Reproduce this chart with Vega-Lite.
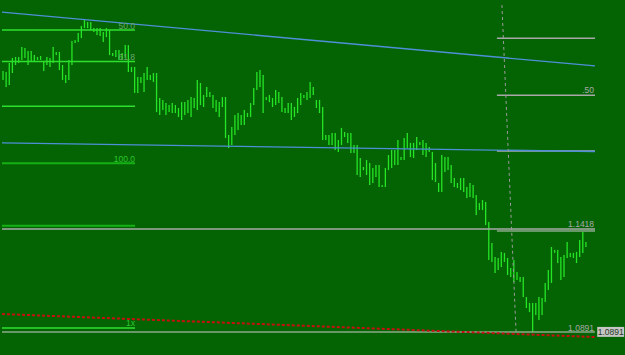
{
  "$schema": "https://vega.github.io/schema/vega-lite/v6.json",
  "width": 625,
  "height": 355,
  "autosize": {"type": "fit", "contains": "padding"},
  "padding": 0,
  "background": "#046404",
  "config": {"view": {"stroke": null}},
  "datasets": {
    "bars": [
      {"i":0,"h":1.2227,"l":1.2181},{"i":1,"h":1.2222,"l":1.2145},{"i":2,"h":1.2268,"l":1.2156},{"i":3,"h":1.2294,"l":1.2217},{"i":4,"h":1.2299,"l":1.2258},
      {"i":5,"h":1.2299,"l":1.2268},{"i":6,"h":1.2350,"l":1.2284},{"i":7,"h":1.2345,"l":1.2294},{"i":8,"h":1.2330,"l":1.2258},{"i":9,"h":1.2330,"l":1.2273},
      {"i":10,"h":1.2309,"l":1.2273},{"i":11,"h":1.2299,"l":1.2284},{"i":12,"h":1.2304,"l":1.2284},{"i":13,"h":1.2273,"l":1.2227},{"i":14,"h":1.2299,"l":1.2258},
      {"i":15,"h":1.2294,"l":1.2248},{"i":16,"h":1.2350,"l":1.2268},{"i":17,"h":1.2325,"l":1.2309},{"i":18,"h":1.2325,"l":1.2232},{"i":19,"h":1.2258,"l":1.2181},
      {"i":20,"h":1.2207,"l":1.2166},{"i":21,"h":1.2284,"l":1.2181},{"i":22,"h":1.2381,"l":1.2258},{"i":23,"h":1.2386,"l":1.2371},{"i":24,"h":1.2422,"l":1.2376},
      {"i":25,"h":1.2458,"l":1.2396},{"i":26,"h":1.2488,"l":1.2447},{"i":27,"h":1.2478,"l":1.2447},{"i":28,"h":1.2478,"l":1.2437},{"i":29,"h":1.2447,"l":1.2427},
      {"i":30,"h":1.2447,"l":1.2412},{"i":31,"h":1.2447,"l":1.2406},{"i":32,"h":1.2427,"l":1.2376},{"i":33,"h":1.2447,"l":1.2401},{"i":34,"h":1.2437,"l":1.2309},
      {"i":35,"h":1.2320,"l":1.2304},{"i":36,"h":1.2335,"l":1.2299},{"i":37,"h":1.2335,"l":1.2284},{"i":38,"h":1.2320,"l":1.2284},{"i":39,"h":1.2360,"l":1.2294},
      {"i":40,"h":1.2360,"l":1.2222},{"i":41,"h":1.2248,"l":1.2222},{"i":42,"h":1.2248,"l":1.2115},{"i":43,"h":1.2197,"l":1.2115},{"i":44,"h":1.2197,"l":1.2166},
      {"i":45,"h":1.2217,"l":1.2120},{"i":46,"h":1.2248,"l":1.2181},{"i":47,"h":1.2207,"l":1.2181},{"i":48,"h":1.2217,"l":1.2171},{"i":49,"h":1.2217,"l":1.2017},
      {"i":50,"h":1.2089,"l":1.2002},{"i":51,"h":1.2079,"l":1.2028},{"i":52,"h":1.2063,"l":1.2002},{"i":53,"h":1.2053,"l":1.2017},{"i":54,"h":1.2063,"l":1.2012},
      {"i":55,"h":1.2053,"l":1.2012},{"i":56,"h":1.2038,"l":1.1992},
      {"i":57,"h":1.2068,"l":1.1976},{"i":58,"h":1.2068,"l":1.2002},{"i":59,"h":1.2079,"l":1.2012},{"i":60,"h":1.2094,"l":1.1992},
      {"i":61,"h":1.2089,"l":1.2038},{"i":62,"h":1.2181,"l":1.2028},{"i":63,"h":1.2166,"l":1.2053},{"i":64,"h":1.2104,"l":1.2043},{"i":65,"h":1.2145,"l":1.2094},
      {"i":66,"h":1.2120,"l":1.2094},{"i":67,"h":1.2104,"l":1.2038},{"i":68,"h":1.2079,"l":1.2017},{"i":69,"h":1.2068,"l":1.1992},{"i":70,"h":1.2094,"l":1.2043},
      {"i":71,"h":1.2094,"l":1.1884},{"i":72,"h":1.1899,"l":1.1833},{"i":73,"h":1.1941,"l":1.1848},{"i":74,"h":1.2002,"l":1.1899},{"i":75,"h":1.2012,"l":1.1925},
      {"i":76,"h":1.2002,"l":1.1951},{"i":77,"h":1.2028,"l":1.1951},{"i":78,"h":1.2012,"l":1.1992},{"i":79,"h":1.2063,"l":1.1992},{"i":80,"h":1.2140,"l":1.2053},
      {"i":81,"h":1.2222,"l":1.2130},{"i":82,"h":1.2232,"l":1.2145},{"i":83,"h":1.2207,"l":1.2012},{"i":84,"h":1.2094,"l":1.2079},{"i":85,"h":1.2104,"l":1.2068},
      {"i":86,"h":1.2089,"l":1.2043},{"i":87,"h":1.2130,"l":1.2053},{"i":88,"h":1.2120,"l":1.2063},{"i":89,"h":1.2094,"l":1.2017},{"i":90,"h":1.2038,"l":1.2012},
      {"i":91,"h":1.2063,"l":1.2012},{"i":92,"h":1.2063,"l":1.1976},{"i":93,"h":1.2043,"l":1.1992},{"i":94,"h":1.2089,"l":1.2012},{"i":95,"h":1.2115,"l":1.2053},
      {"i":96,"h":1.2104,"l":1.2089},{"i":97,"h":1.2120,"l":1.2079},{"i":98,"h":1.2171,"l":1.2089},{"i":99,"h":1.2145,"l":1.2104},{"i":100,"h":1.2079,"l":1.2038},
      {"i":101,"h":1.2079,"l":1.2012},{"i":102,"h":1.2043,"l":1.1874},{"i":103,"h":1.1899,"l":1.1874},{"i":104,"h":1.1899,"l":1.1848},{"i":105,"h":1.1910,"l":1.1848},
      {"i":106,"h":1.1910,"l":1.1823},{"i":107,"h":1.1874,"l":1.1813},{"i":108,"h":1.1936,"l":1.1848},{"i":109,"h":1.1915,"l":1.1889},
      {"i":110,"h":1.1910,"l":1.1859},{"i":111,"h":1.1910,"l":1.1807},{"i":112,"h":1.1848,"l":1.1807},{"i":113,"h":1.1848,"l":1.1695},{"i":114,"h":1.1782,"l":1.1684},
      {"i":115,"h":1.1736,"l":1.1720},{"i":116,"h":1.1772,"l":1.1695},{"i":117,"h":1.1756,"l":1.1644},{"i":118,"h":1.1731,"l":1.1654},{"i":119,"h":1.1746,"l":1.1684},
      {"i":120,"h":1.1746,"l":1.1633},{"i":121,"h":1.1644,"l":1.1633},{"i":122,"h":1.1731,"l":1.1633},{"i":123,"h":1.1797,"l":1.1720},{"i":124,"h":1.1823,"l":1.1731},
      {"i":125,"h":1.1823,"l":1.1746},{"i":126,"h":1.1874,"l":1.1746},{"i":127,"h":1.1787,"l":1.1772},{"i":128,"h":1.1884,"l":1.1772},{"i":129,"h":1.1910,"l":1.1833},
      {"i":130,"h":1.1859,"l":1.1787},{"i":131,"h":1.1859,"l":1.1782},{"i":132,"h":1.1889,"l":1.1823},{"i":133,"h":1.1864,"l":1.1848},{"i":134,"h":1.1874,"l":1.1797},
      {"i":135,"h":1.1859,"l":1.1787},{"i":136,"h":1.1838,"l":1.1813},{"i":137,"h":1.1813,"l":1.1669},{"i":138,"h":1.1756,"l":1.1659},{"i":139,"h":1.1654,"l":1.1608},
      {"i":140,"h":1.1797,"l":1.1608},{"i":141,"h":1.1787,"l":1.1710},{"i":142,"h":1.1787,"l":1.1720},{"i":143,"h":1.1746,"l":1.1654},{"i":144,"h":1.1679,"l":1.1633},
      {"i":145,"h":1.1654,"l":1.1628},{"i":146,"h":1.1679,"l":1.1618},{"i":147,"h":1.1679,"l":1.1608},{"i":148,"h":1.1633,"l":1.1577},{"i":149,"h":1.1654,"l":1.1582},
      {"i":150,"h":1.1644,"l":1.1577},{"i":151,"h":1.1593,"l":1.1490},{"i":152,"h":1.1551,"l":1.1516},
      {"i":153,"h":1.1567,"l":1.1516},{"i":154,"h":1.1557,"l":1.1439},{"i":155,"h":1.1454,"l":1.1260},{"i":156,"h":1.1347,"l":1.1250},{"i":157,"h":1.1275,"l":1.1193},
      {"i":158,"h":1.1270,"l":1.1208},{"i":159,"h":1.1301,"l":1.1224},{"i":160,"h":1.1296,"l":1.1250},{"i":161,"h":1.1270,"l":1.1183},{"i":162,"h":1.1219,"l":1.1173},
      {"i":163,"h":1.1260,"l":1.1147},{"i":164,"h":1.1198,"l":1.1157},{"i":165,"h":1.1173,"l":1.1147},{"i":166,"h":1.1173,"l":1.1070},{"i":167,"h":1.1070,"l":1.1014},
      {"i":168,"h":1.1040,"l":1.0993},{"i":169,"h":1.1040,"l":1.0891},{"i":170,"h":1.1040,"l":1.0978},{"i":171,"h":1.1070,"l":1.0952},{"i":172,"h":1.1065,"l":1.0978},
      {"i":173,"h":1.1142,"l":1.1045},{"i":174,"h":1.1208,"l":1.1106},{"i":175,"h":1.1326,"l":1.1142},{"i":176,"h":1.1311,"l":1.1296},{"i":177,"h":1.1311,"l":1.1244},
      {"i":178,"h":1.1275,"l":1.1157},{"i":179,"h":1.1285,"l":1.1173},{"i":180,"h":1.1352,"l":1.1270},{"i":181,"h":1.1296,"l":1.1275},{"i":182,"h":1.1296,"l":1.1270},
      {"i":183,"h":1.1301,"l":1.1244},{"i":184,"h":1.1362,"l":1.1275},{"i":185,"h":1.1403,"l":1.1296},{"i":186,"h":1.1352,"l":1.1326}
    ],
    "levels": [
      {"name":"50.0","x1":-0.32,"x2":42.12,"p":1.2437,"kind":"fib"},
      {"name":"61.8","x1":-0.32,"x2":42.12,"p":1.2276,"kind":"fib"},
      {"name":"78.6","x1":-0.32,"x2":42.12,"p":1.2047,"kind":"fib"},
      {"name":"100.0","x1":-0.32,"x2":42.12,"p":1.1755,"kind":"fibdim"},
      {"name":"123.6","x1":-0.32,"x2":42.12,"p":1.1435,"kind":"fibdim"},
      {"name":"161.8","x1":-0.32,"x2":42.12,"p":1.0912,"kind":"fib"},
      {"name":"0","x1":157.6,"x2":188.9,"p":1.2395,"kind":"gray"},
      {"name":".50","x1":157.6,"x2":188.9,"p":1.2103,"kind":"gray"},
      {"name":"1","x1":157.6,"x2":188.9,"p":1.1818,"kind":"gray"},
      {"name":"1.1418","x1":-0.32,"x2":188.9,"p":1.1418,"kind":"gray"},
      {"name":"1.1418b","x1":157.6,"x2":188.9,"p":1.1408,"kind":"graydim"},
      {"name":"1.0891","x1":-0.32,"x2":188.9,"p":1.0891,"kind":"graydim"}
    ],
    "trends": [
      {"name":"upper","x1":-0.32,"p1":1.2529,"x2":188.9,"p2":1.2253,"kind":"blue"},
      {"name":"lower","x1":-0.32,"p1":1.1859,"x2":188.9,"p2":1.1815,"kind":"blue"},
      {"name":"support","x1":-0.32,"p1":1.0983,"x2":188.9,"p2":1.0865,"kind":"red"},
      {"name":"vline","x1":159.2,"p1":1.2565,"x2":163.7,"p2":1.0891,"kind":"vdash"}
    ],
    "box": [{"x1":189.6,"x2":198.2,"p1":1.0917,"p2":1.0866,"text":"1.0891","xc":193.9,"pc":1.0891}],
    "labels": [
      {"text":"50.0","x":42.12,"p":1.2440,"kind":"fiblabel"},
      {"text":"61.8","x":42.12,"p":1.2284,"kind":"fiblabel"},
      {"text":"100.0","x":42.12,"p":1.1761,"kind":"fibgreen"},
      {"text":"1x","x":42.12,"p":1.0922,"kind":"fibgreen"},
      {"text":".50","x":188.6,"p":1.2115,"kind":"gray"},
      {"text":"1.1418","x":188.6,"p":1.1429,"kind":"gray"},
      {"text":"1.0891","x":188.6,"p":1.0896,"kind":"gray"}
    ]
  },
  "layer": [
    {
      "data": {"name": "bars"},
      "mark": {"type": "rule", "color": "#26e426", "strokeWidth": 1.3},
      "encoding": {
        "x": {"field": "i", "type": "quantitative", "scale": {"domain": [-0.957, 198.466], "nice": false, "zero": false}, "axis": null},
        "y": {"field": "h", "type": "quantitative", "scale": {"domain": [1.07732, 1.25908], "nice": false, "zero": false}, "axis": null},
        "y2": {"field": "l"}
      }
    },
    {
      "data": {"name": "levels"},
      "transform": [{"filter": "datum.kind === 'fib'"}],
      "mark": {"type": "rule", "color": "#2ee02e", "strokeWidth": 1.5},
      "encoding": {
        "x": {"field": "x1", "type": "quantitative", "scale": {"domain": [-0.957, 198.466], "nice": false, "zero": false}, "axis": null},
        "x2": {"field": "x2"},
        "y": {"field": "p", "type": "quantitative", "scale": {"domain": [1.07732, 1.25908], "nice": false, "zero": false}, "axis": null}
      }
    },
    {
      "data": {"name": "levels"},
      "transform": [{"filter": "datum.kind === 'fibdim'"}],
      "mark": {"type": "rule", "color": "#14b014", "strokeWidth": 2},
      "encoding": {
        "x": {"field": "x1", "type": "quantitative", "scale": {"domain": [-0.957, 198.466], "nice": false, "zero": false}, "axis": null},
        "x2": {"field": "x2"},
        "y": {"field": "p", "type": "quantitative", "scale": {"domain": [1.07732, 1.25908], "nice": false, "zero": false}, "axis": null}
      }
    },
    {
      "data": {"name": "levels"},
      "transform": [{"filter": "datum.kind === 'gray'"}],
      "mark": {"type": "rule", "color": "#a8a8a8", "strokeWidth": 1.5},
      "encoding": {
        "x": {"field": "x1", "type": "quantitative", "scale": {"domain": [-0.957, 198.466], "nice": false, "zero": false}, "axis": null},
        "x2": {"field": "x2"},
        "y": {"field": "p", "type": "quantitative", "scale": {"domain": [1.07732, 1.25908], "nice": false, "zero": false}, "axis": null}
      }
    },
    {
      "data": {"name": "levels"},
      "transform": [{"filter": "datum.kind === 'graydim'"}],
      "mark": {"type": "rule", "color": "#8aa88a", "strokeWidth": 1.5},
      "encoding": {
        "x": {"field": "x1", "type": "quantitative", "scale": {"domain": [-0.957, 198.466], "nice": false, "zero": false}, "axis": null},
        "x2": {"field": "x2"},
        "y": {"field": "p", "type": "quantitative", "scale": {"domain": [1.07732, 1.25908], "nice": false, "zero": false}, "axis": null}
      }
    },
    {
      "data": {"name": "trends"},
      "transform": [{"filter": "datum.kind === 'blue'"}],
      "mark": {"type": "rule", "color": "#4f8fd8", "strokeWidth": 1.3},
      "encoding": {
        "x": {"field": "x1", "type": "quantitative", "scale": {"domain": [-0.957, 198.466], "nice": false, "zero": false}, "axis": null},
        "x2": {"field": "x2"},
        "y": {"field": "p1", "type": "quantitative", "scale": {"domain": [1.07732, 1.25908], "nice": false, "zero": false}, "axis": null},
        "y2": {"field": "p2"}
      }
    },
    {
      "data": {"name": "trends"},
      "transform": [{"filter": "datum.kind === 'red'"}],
      "mark": {"type": "rule", "color": "#c81010", "strokeWidth": 2, "strokeDash": [3, 2]},
      "encoding": {
        "x": {"field": "x1", "type": "quantitative", "scale": {"domain": [-0.957, 198.466], "nice": false, "zero": false}, "axis": null},
        "x2": {"field": "x2"},
        "y": {"field": "p1", "type": "quantitative", "scale": {"domain": [1.07732, 1.25908], "nice": false, "zero": false}, "axis": null},
        "y2": {"field": "p2"}
      }
    },
    {
      "data": {"name": "trends"},
      "transform": [{"filter": "datum.kind === 'vdash'"}],
      "mark": {"type": "rule", "color": "#9a9a9a", "strokeWidth": 1, "strokeDash": [3, 3]},
      "encoding": {
        "x": {"field": "x1", "type": "quantitative", "scale": {"domain": [-0.957, 198.466], "nice": false, "zero": false}, "axis": null},
        "x2": {"field": "x2"},
        "y": {"field": "p1", "type": "quantitative", "scale": {"domain": [1.07732, 1.25908], "nice": false, "zero": false}, "axis": null},
        "y2": {"field": "p2"}
      }
    },
    {
      "data": {"name": "box"},
      "mark": {"type": "rect", "color": "#c6c6c6"},
      "encoding": {
        "x": {"field": "x1", "type": "quantitative", "scale": {"domain": [-0.957, 198.466], "nice": false, "zero": false}, "axis": null},
        "x2": {"field": "x2"},
        "y": {"field": "p1", "type": "quantitative", "scale": {"domain": [1.07732, 1.25908], "nice": false, "zero": false}, "axis": null},
        "y2": {"field": "p2"}
      }
    },
    {
      "data": {"name": "box"},
      "mark": {"type": "text", "color": "#233a23", "font": "Liberation Sans", "fontSize": 8.5, "align": "center", "baseline": "middle"},
      "encoding": {
        "x": {"field": "xc", "type": "quantitative", "scale": {"domain": [-0.957, 198.466], "nice": false, "zero": false}, "axis": null},
        "y": {"field": "pc", "type": "quantitative", "scale": {"domain": [1.07732, 1.25908], "nice": false, "zero": false}, "axis": null},
        "text": {"field": "text"}
      }
    },
    {
      "data": {"name": "labels"},
      "mark": {"type": "text", "font": "Liberation Sans", "fontSize": 8.5, "align": "right", "baseline": "alphabetic"},
      "encoding": {
        "x": {"field": "x", "type": "quantitative", "scale": {"domain": [-0.957, 198.466], "nice": false, "zero": false}, "axis": null},
        "y": {"field": "p", "type": "quantitative", "scale": {"domain": [1.07732, 1.25908], "nice": false, "zero": false}, "axis": null},
        "text": {"field": "text"},
        "color": {"field": "kind", "type": "nominal", "scale": {"domain": ["fiblabel", "fibgreen", "gray"], "range": ["#6aa46a", "#2cc42c", "#a8a8a8"]}, "legend": null}
      }
    }
  ]
}
